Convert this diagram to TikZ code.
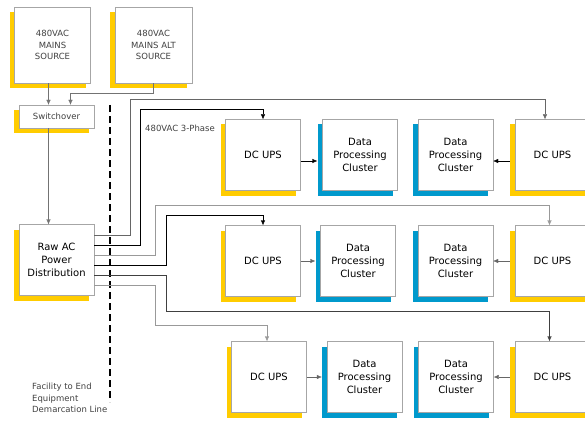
\documentclass[tikz,border=0pt]{standalone}
\usepackage{fontspec}
\setmainfont{DejaVu Sans}
\usetikzlibrary{shadows,arrows.meta}
\definecolor{upsyellow}{HTML}{FFCC00}
\definecolor{clusterblue}{HTML}{0099CC}
\tikzset{
    box/.style={draw=black!35, fill=white, inner sep=0pt, align=center,
        font=\fontsize{10}{13.3}\selectfont, minimum width=75pt, minimum height=71pt},
    yshadow/.style={general shadow={shadow xshift=-5pt, shadow yshift=-5pt, fill=upsyellow}},
    bshadow/.style={general shadow={shadow xshift=-5pt, shadow yshift=-5pt, fill=clusterblue}},
    ups/.style={box, yshadow},
    cluster/.style={box, bshadow},
    small/.style={font=\fontsize{8.5}{11.8}\selectfont, text=black!75},
    feed/.style={-{Latex[length=5pt,width=4.5pt]}},
}
\newcommand{\upslabel}{\raisebox{-4pt}{DC UPS}}
\newcommand{\dpclabel}{Data\\Processing\\Cluster}

\begin{document}
\begin{tikzpicture}[x=1pt, y=-1pt]
\clip (0,0) rectangle (585,422);

% sources
\node[box, yshadow, small, minimum width=76pt, minimum height=76pt] (mains) at (52.5,45) {480VAC\\MAINS\\SOURCE};
\node[box, yshadow, small, minimum width=77pt, minimum height=76pt] (alt) at (153.5,45) {480VAC\\MAINS ALT\\SOURCE};
\node[box, yshadow, small, minimum height=23pt] (switch) at (56.5,116.5) {Switchover};
\node[box, yshadow] (raw) at (56.5,260) {Raw AC\\Power\\Distribution};

% row 1
\node[ups] (ups1a) at (263,155) {\upslabel};
\node[cluster] (dpc1a) at (360,155) {\dpclabel};
\node[cluster] (dpc1b) at (455.5,155) {\dpclabel};
\node[ups] (ups1b) at (552.5,155) {\upslabel};
% row 2
\node[ups] (ups2a) at (263,261) {\upslabel};
\node[cluster] (dpc2a) at (358,261) {\dpclabel};
\node[cluster] (dpc2b) at (455.5,261) {\dpclabel};
\node[ups] (ups2b) at (552.5,261) {\upslabel};
% row 3
\node[ups] (ups3a) at (269,377) {\upslabel};
\node[cluster] (dpc3a) at (364.5,377) {\dpclabel};
\node[cluster] (dpc3b) at (456,377) {\dpclabel};
\node[ups] (ups3b) at (552.5,377) {\upslabel};

\node[small, anchor=west, inner sep=0pt] (phase) at (145,128) {480VAC 3-Phase};

% demarcation
\coordinate (demtop) at (110,105);
\coordinate (dembot) at (110,402);
\draw[line width=1.5pt, dash pattern=on 7pt off 4pt] (demtop) -- (dembot);
\node[small, align=left, anchor=west, inner sep=0pt] (demlabel) at (32,398) {Facility to End\\Equipment\\Demarcation Line};

% feeds to switchover and distribution
\draw[feed, black!55] ([xshift=-4pt]mains.south) -- ([xshift=-8pt]switch.north);
\draw[feed, black!55] (alt.south) -- ++(0,10) -| ([xshift=14pt]switch.north);
\draw[feed, black!55] ([xshift=-8pt]switch.south) -- ([xshift=-8pt]raw.north);

% distribution outputs
\draw[feed, black!60] ([yshift=25pt]raw.east) -| (130,99) -| ([xshift=-7.5pt]ups1b.north);
\draw[feed, black] ([yshift=15pt]raw.east) -| (140,109) -| (ups1a.north);
\draw[feed, black!40] ([yshift=5pt]raw.east) -| (155,205) -| ([xshift=-3pt]ups2b.north);
\draw[feed, black] ([yshift=-5pt]raw.east) -| (166,215) -| (ups2a.north);
\draw[feed, black!75] ([yshift=-15pt]raw.east) -| (166,311) -| ([xshift=-3pt]ups3b.north);
\draw[feed, black!40] ([yshift=-25pt]raw.east) -| (155,325) -| ([xshift=-2pt]ups3a.north);

% ups to clusters
\draw[feed] ([yshift=-6pt]ups1a.east) -- ([xshift=-5pt,yshift=-6pt]dpc1a.west);
\draw[feed] ([xshift=-5pt,yshift=-6pt]ups1b.west) -- ([yshift=-6pt]dpc1b.east);
\draw[feed, black!60] (ups2a.east) -- ([xshift=-5pt]dpc2a.west);
\draw[feed, black!60] ([xshift=-5pt]ups2b.west) -- (dpc2b.east);
\draw[feed, black!60] (ups3a.east) -- ([xshift=-5pt]dpc3a.west);
\draw[feed, black!60] ([xshift=-5pt]ups3b.west) -- (dpc3b.east);
\end{tikzpicture}
\end{document}
